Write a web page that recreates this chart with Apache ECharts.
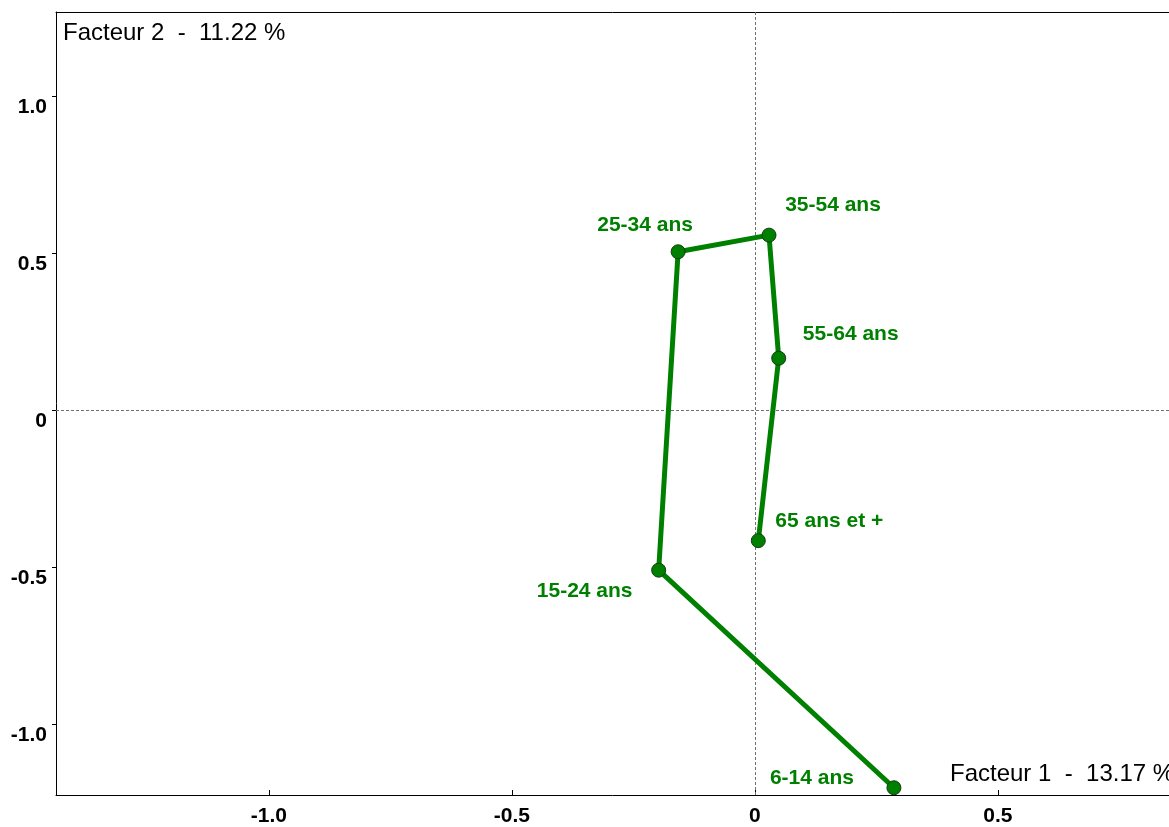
<!DOCTYPE html>
<html>
<head>
<meta charset="utf-8">
<script src="https://cdn.jsdelivr.net/npm/echarts@6/dist/echarts.min.js"></script>
<style>
  html, body { margin: 0; padding: 0; background: #fff; }
  #chart { width: 1169px; height: 827px; }
</style>
</head>
<body>
<div id="chart"></div>
<script>
// Age groups on the first factorial plane, joined in age order
const categories = ['6-14 ans', '15-24 ans', '25-34 ans', '35-54 ans', '55-64 ans', '65 ans et +'];
const factor1 = [0.286, -0.198, -0.158, 0.029, 0.049, 0.007];
const factor2 = [-1.202, -0.509, 0.505, 0.558, 0.166, -0.415];

const xTicks = [-1.0, -0.5, 0, 0.5];
const yTicks = [-1.0, -0.5, 0, 0.5, 1.0];

const xTitle = 'Facteur 1  -  13.17 %';
const yTitle = 'Facteur 2  -  11.22 %';

// label placement around each point (pixels)
const labelOffset = {
  '6-14 ans': [-82, -10],
  '15-24 ans': [-74, 21],
  '25-34 ans': [-33, -27],
  '35-54 ans': [64, -30],
  '55-64 ans': [72, -24],
  '65 ans et +': [71, -19]
};

const green = '#008000';
const fmt = v => (v === 0 ? '0' : v.toFixed(1));
const X_MIN = -1.438, X_MAX = 0.852;

const points = categories.map((c, i) => ({
  name: c,
  value: [factor1[i], factor2[i]],
  label: { offset: labelOffset[c] }
}));

const tickFont = { color: '#000', fontWeight: 'bold', fontSize: 21, fontFamily: 'Liberation Sans, Arial, sans-serif' };

const chart = echarts.init(document.getElementById('chart'));
chart.setOption({
  animation: false,
  backgroundColor: '#fff',
  grid: { left: 56, right: 0, top: 12, bottom: 32 },
  xAxis: [
    {
      type: 'value',
      min: X_MIN, max: X_MAX,
      axisLine: { onZero: false, lineStyle: { color: '#000', width: 1 } },
      axisTick: { inside: true, length: 5, lineStyle: { color: '#000' }, customValues: xTicks },
      axisLabel: Object.assign({ customValues: xTicks, formatter: fmt, margin: 11 }, tickFont),
      splitLine: { show: false }
    },
    {
      // top frame line
      type: 'value', position: 'top',
      min: X_MIN, max: X_MAX,
      axisLine: { show: true, onZero: false, lineStyle: { color: '#000', width: 1 } },
      axisTick: { show: false }, axisLabel: { show: false }, splitLine: { show: false }
    }
  ],
  yAxis: {
    type: 'value',
    min: -1.225, max: 1.2686,
    axisLine: { onZero: false, lineStyle: { color: '#000', width: 1 } },
    axisTick: { inside: false, length: 4, lineStyle: { color: '#000' }, customValues: yTicks },
    axisLabel: Object.assign({ customValues: yTicks, formatter: fmt, margin: 9, verticalAlign: 'top' }, tickFont),
    splitLine: { show: false }
  },
  graphic: [
    {
      type: 'text', left: 63, top: 21, z: 10,
      style: { text: yTitle, fill: '#000', font: '24px "Liberation Sans", Arial, sans-serif' }
    },
    {
      type: 'text', left: 950, top: 762, z: 10,
      style: { text: xTitle, fill: '#000', font: '24px "Liberation Sans", Arial, sans-serif' }
    }
  ],
  series: [{
    type: 'line',
    data: points,
    symbol: 'circle',
    symbolSize: 14,
    lineStyle: { color: green, width: 5 },
    itemStyle: { color: green, borderColor: '#123a12', borderWidth: 1 },
    label: {
      show: true,
      position: 'inside',
      formatter: p => p.name,
      color: green,
      fontWeight: 'bold',
      fontSize: 21,
      fontFamily: '"Liberation Sans", Arial, sans-serif'
    },
    markLine: {
      silent: true,
      symbol: 'none',
      label: { show: false },
      lineStyle: { color: '#707070', type: [3, 2], width: 1 },
      data: [{ xAxis: 0 }, { yAxis: 0 }]
    },
    z: 5
  }]
});
</script>
</body>
</html>
